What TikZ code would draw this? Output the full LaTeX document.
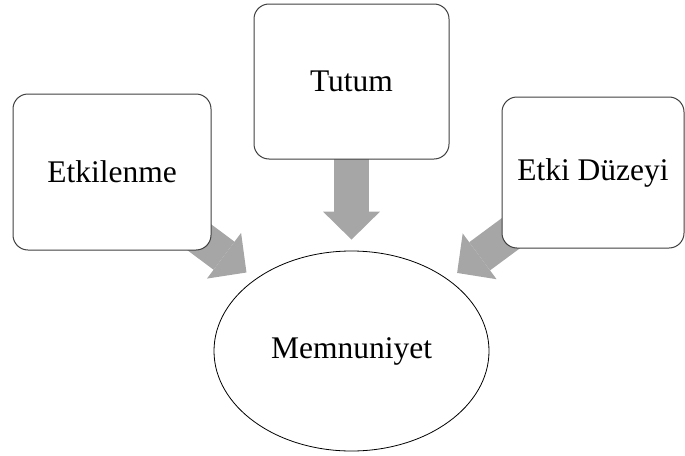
\documentclass[tikz,border=0pt]{standalone}
\usepackage{fontspec}
\setmainfont{Liberation Serif}
\usetikzlibrary{arrows.meta,shapes.geometric,backgrounds}
\definecolor{okgri}{RGB}{166,166,166}

\begin{document}
\begin{tikzpicture}[x=1pt,y=-1pt,
  kutu/.style={draw=black!75,line width=1pt,rounded corners=15pt,fill=white,
    font=\fontsize{31.5}{36}\selectfont},
  blok/.style={draw=okgri,line width=35pt,
    -{Triangle[width=57pt,length=28pt,line width=0pt]},shorten >=11pt}]
  \useasboundingbox (0,0) rectangle (685,455);
  \node[kutu,minimum width=198pt,minimum height=156pt] (etkilenme) at (112,172) {Etkilenme};
  \node[kutu,minimum width=195pt,minimum height=155pt] (tutum) at (351.5,81.5) {Tutum};
  \node[kutu,minimum width=182pt,minimum height=151pt] (duzey) at (593,172.5) {Etki Düzeyi};
  \node[draw,ellipse,line width=0.8pt,minimum width=275pt,minimum height=200pt,
    font=\fontsize{31.5}{36}\selectfont] (memnuniyet) at (351.5,351) {Memnuniyet};
  \begin{scope}[on background layer]
    \draw[blok] (etkilenme.center) -- (memnuniyet);
    \draw[blok] (tutum.center) -- (memnuniyet);
    \draw[blok] (duzey.center) -- (memnuniyet);
  \end{scope}
\end{tikzpicture}
\end{document}
